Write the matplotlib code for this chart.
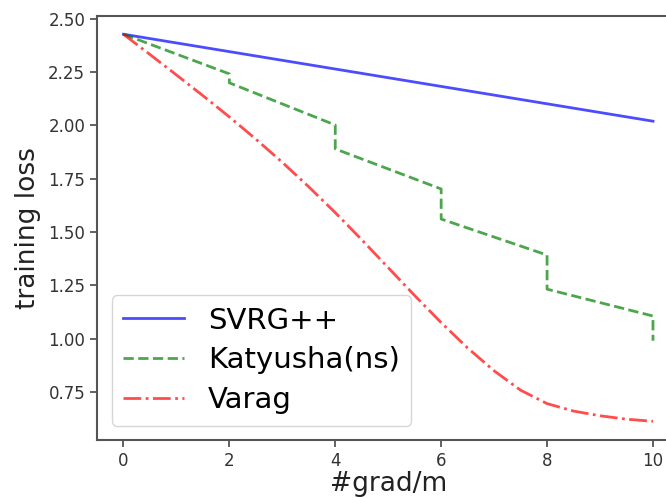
import matplotlib
matplotlib.use("Agg")
import matplotlib.pyplot as plt
from matplotlib.ticker import FormatStrFormatter

# Data
svrg_x = [0, 10]
svrg_y = [2.428, 2.02]

katy_x = [0, 2, 2, 4, 4, 6, 6, 8, 8, 10, 10]
katy_y = [2.428, 2.242, 2.200, 2.002, 1.890, 1.702, 1.561, 1.392, 1.232, 1.106, 0.99]

varag_x = [0, 0.5, 1, 1.5, 2, 2.5, 3, 3.5, 4, 4.5, 5, 5.5, 6, 6.5, 7, 7.5, 8, 8.5, 9, 9.5, 10]
varag_y = [2.428, 2.333, 2.237, 2.140, 2.040, 1.936, 1.827, 1.712, 1.591, 1.464, 1.333,
           1.202, 1.075, 0.956, 0.849, 0.758, 0.695, 0.660, 0.638, 0.622, 0.612]

labels = ["SVRG++", "Katyusha(ns)", "Varag"]
xticks = [0, 2, 4, 6, 8, 10]
yticks = [0.75, 1.00, 1.25, 1.50, 1.75, 2.00, 2.25, 2.50]

fig = plt.figure(figsize=(6.66, 4.98), dpi=100)
ax = fig.add_axes([0.1456, 0.1159, 0.8746, 0.8526])

ax.plot(svrg_x, svrg_y, color="blue", alpha=0.7, lw=2.0, ls="-", label=labels[0])
ax.plot(katy_x, katy_y, color="green", alpha=0.7, lw=2.0, ls="--", label=labels[1])
ax.plot(varag_x, varag_y, color="red", alpha=0.7, lw=2.0, ls="-.", label=labels[2])

ax.set_xlim(-0.5, 10.5)
ax.set_ylim(0.523, 2.515)
ax.set_xticks(xticks)
ax.set_yticks(yticks)
ax.yaxis.set_major_formatter(FormatStrFormatter("%.2f"))

for s in ax.spines.values():
    s.set_color("#555555")
    s.set_linewidth(1.5)
ax.tick_params(colors="#555555", labelcolor="#333333", labelsize=12, width=1.3, length=5)

ax.set_xlabel("#grad/m", fontsize=19, color="#222222", labelpad=1)
ax.set_ylabel("training loss", fontsize=19, color="#222222", labelpad=5)

leg = ax.legend(loc="lower left", fontsize=21, handlelength=2.1, frameon=True,
                borderaxespad=0.5, labelspacing=0.4)
leg.get_frame().set_edgecolor("#cccccc")

fig.savefig("out.png", dpi=100)
